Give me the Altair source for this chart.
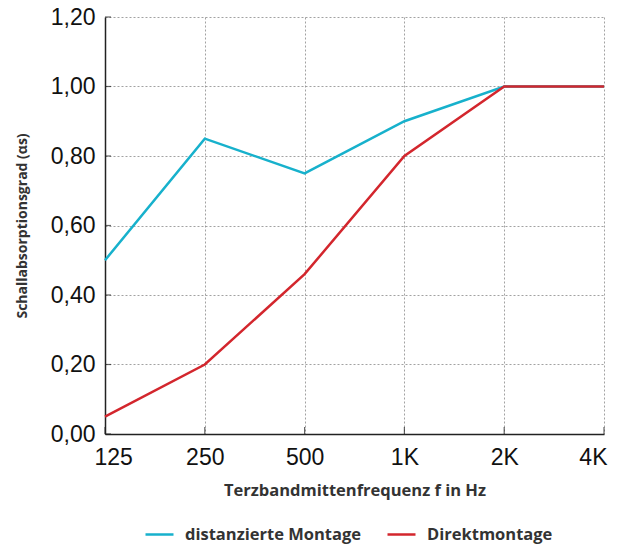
import altair as alt
import pandas as pd

freqs = ["125", "250", "500", "1K", "2K", "4K"]
distanziert = [0.50, 0.85, 0.75, 0.90, 1.00, 1.00]
direkt = [0.05, 0.20, 0.46, 0.80, 1.00, 1.00]
series_names = ["distanzierte Montage", "Direktmontage"]
y_ticks = [0.0, 0.2, 0.4, 0.6, 0.8, 1.0, 1.2]

rows = []
for f, v in zip(freqs, distanziert):
    rows.append({"f": f, "v": v, "s": series_names[0]})
for f, v in zip(freqs, direkt):
    rows.append({"f": f, "v": v, "s": series_names[1]})
df = pd.DataFrame(rows)

W, H = 499, 417
xscale = alt.Scale(type="point", domain=freqs, padding=0)
yscale = alt.Scale(domain=[0, 1.2], nice=False)
TITLE_FONT = "Open Sans"

lines = alt.Chart(df).mark_line(strokeWidth=2.5).encode(
    x=alt.X("f:N", scale=xscale, sort=freqs,
            axis=alt.Axis(title="Terzbandmittenfrequenz f in Hz", labelAngle=0,
                          labelFontSize=23, labelFont="Liberation Sans", labelColor="#111",
                          labelPadding=12,
                          labelAlign={"condition": [
                              {"test": "datum.value == '125'", "value": "left"},
                              {"test": "datum.value == '4K'", "value": "right"}],
                              "value": "center"},
                          labelOffset={"condition": [
                              {"test": "datum.value == '125'", "value": -11},
                              {"test": "datum.value == '4K'", "value": 3}],
                              "value": 0},
                          tickSize=0, domainColor="#222", domainWidth=1.5,
                          grid=True, gridColor="#8a8a8a", gridDash=[2, 2], gridWidth=0.8,
                          titleFont=TITLE_FONT, titleFontWeight="bold", titleFontSize=16.5,
                          titleColor="#333", titlePadding=13)),
    y=alt.Y("v:Q", scale=yscale,
            axis=alt.Axis(title="Schallabsorptionsgrad (αs)", values=y_ticks,
                          labelExpr="replace(format(datum.value, '.2f'), '.', ',')",
                          labelFontSize=23, labelFont="Liberation Sans", labelColor="#111",
                          labelPadding=10, tickSize=0, domainColor="#222", domainWidth=1.5,
                          grid=True, gridColor="#8a8a8a", gridDash=[2, 2], gridWidth=0.8,
                          titleFont=TITLE_FONT, titleFontWeight="bold", titleFontSize=14,
                          titleColor="#333", titlePadding=21)),
    color=alt.Color("s:N", scale=alt.Scale(domain=series_names, range=["#17B1CC", "#D3262D"]),
                    legend=alt.Legend(title=None, orient="none", direction="horizontal",
                                      legendX=39, legendY=H + 85,
                                      symbolType="stroke", symbolSize=784, symbolStrokeWidth=2.5,
                                      labelFont=TITLE_FONT, labelFontWeight="bold", labelFontSize=16.5,
                                      labelColor="#333", labelLimit=400,
                                      columnPadding=21, labelOffset=10)),
)

ytick_df = pd.DataFrame({"v": y_ticks})
yticks = alt.Chart(ytick_df).mark_tick(orient="horizontal", size=6, thickness=1.2, color="#222").encode(
    y=alt.Y("v:Q", scale=yscale), x=alt.value(3))

xtick_df = pd.DataFrame({"f": freqs})
xticks = alt.Chart(xtick_df).mark_tick(orient="vertical", size=7, thickness=1.2, color="#222").encode(
    x=alt.X("f:N", scale=xscale, sort=freqs), y=alt.value(H - 3.5))

chart = alt.layer(lines, yticks, xticks).properties(
    width=W, height=H,
    autosize=alt.AutoSizeParams(type="none"),
    padding={"left": 97, "top": 9, "right": 6, "bottom": 125},
).configure_view(stroke=None)

chart.save("out.html", embed_options={"renderer": "svg", "actions": False})
